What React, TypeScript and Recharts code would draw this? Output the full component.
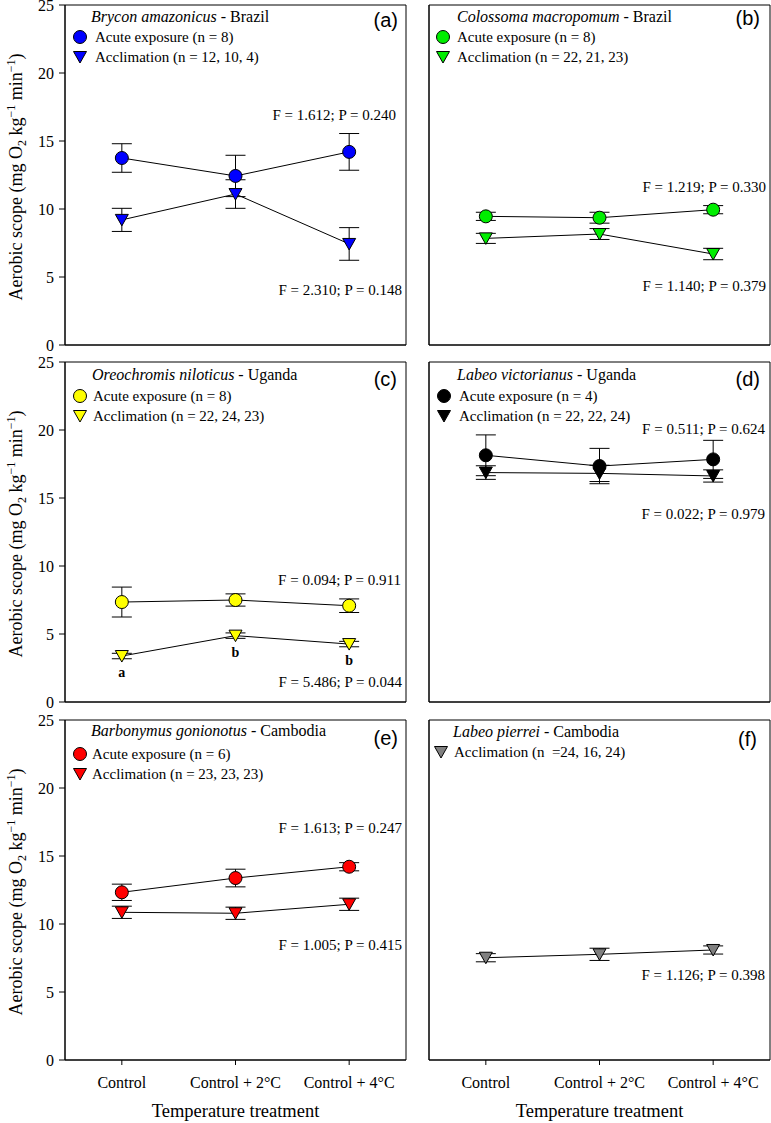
import React from "react";
import { LineChart, Line, XAxis, YAxis, ErrorBar, ReferenceArea, LabelList } from "recharts";

const SERIF = "'Liberation Serif', 'Times New Roman', Times, serif";
const SANS = "'Liberation Sans', Arial, Helvetica, sans-serif";

const treatments = ["Control", "Control + 2°C", "Control + 4°C"];
const yTicks = [0, 5, 10, 15, 20, 25];

// (a) Brycon amazonicus
const aAcute = [13.75, 12.43, 14.2];
const aAcuteSE = [1.05, 1.52, 1.35];
const aAccl = [9.2, 11.1, 7.43];
const aAcclSE = [0.85, 1.05, 1.2];
// (b) Colossoma macropomum
const bAcute = [9.46, 9.36, 9.95];
const bAcuteSE = [0.3, 0.4, 0.3];
const bAccl = [7.84, 8.16, 6.69];
const bAcclSE = [0.37, 0.4, 0.42];
// (c) Oreochromis niloticus
const cAcute = [7.35, 7.5, 7.08];
const cAcuteSE = [1.1, 0.45, 0.5];
const cAccl = [3.38, 4.88, 4.26];
const cAcclSE = [0.2, 0.2, 0.2];
const cLetters = ["a", "b", "b"];
// (d) Labeo victorianus
const dAcute = [18.14, 17.35, 17.84];
const dAcuteSE = [1.5, 1.3, 1.4];
const dAccl = [16.87, 16.81, 16.62];
const dAcclSE = [0.5, 0.6, 0.45];
// (e) Barbonymus gonionotus
const eAcute = [12.33, 13.38, 14.21];
const eAcuteSE = [0.6, 0.65, 0.3];
const eAccl = [10.86, 10.79, 11.45];
const eAcclSE = [0.45, 0.45, 0.45];
// (f) Labeo pierrei
const fAccl = [7.52, 7.77, 8.09];
const fAcclSE = [0.3, 0.45, 0.3];

type Panel = {
  tag: string;
  species: string;
  country: string;
  color: string;
  acuteName?: string;
  acclName: string;
  acute?: number[];
  acuteSE?: number[];
  accl: number[];
  acclSE: number[];
  letters?: string[];
  fTop?: string;
  fBot: string;
};

const panels: Panel[] = [
  { tag: "(a)", species: "Brycon amazonicus", country: "Brazil", color: "#0000ff", acuteName: "Acute exposure (n = 8)", acclName: "Acclimation (n = 12, 10, 4)", acute: aAcute, acuteSE: aAcuteSE, accl: aAccl, acclSE: aAcclSE, fTop: "F = 1.612; P = 0.240", fBot: "F = 2.310; P = 0.148" },
  { tag: "(b)", species: "Colossoma macropomum", country: "Brazil", color: "#00ee00", acuteName: "Acute exposure (n = 8)", acclName: "Acclimation (n = 22, 21, 23)", acute: bAcute, acuteSE: bAcuteSE, accl: bAccl, acclSE: bAcclSE, fTop: "F = 1.219; P = 0.330", fBot: "F = 1.140; P = 0.379" },
  { tag: "(c)", species: "Oreochromis niloticus", country: "Uganda", color: "#ffff00", acuteName: "Acute exposure (n = 8)", acclName: "Acclimation (n = 22, 24, 23)", acute: cAcute, acuteSE: cAcuteSE, accl: cAccl, acclSE: cAcclSE, letters: cLetters, fTop: "F = 0.094; P = 0.911", fBot: "F = 5.486; P = 0.044" },
  { tag: "(d)", species: "Labeo victorianus", country: "Uganda", color: "#000000", acuteName: "Acute exposure (n = 4)", acclName: "Acclimation (n = 22, 22, 24)", acute: dAcute, acuteSE: dAcuteSE, accl: dAccl, acclSE: dAcclSE, fTop: "F = 0.511; P = 0.624", fBot: "F = 0.022; P = 0.979" },
  { tag: "(e)", species: "Barbonymus gonionotus", country: "Cambodia", color: "#ff0000", acuteName: "Acute exposure (n = 6)", acclName: "Acclimation (n = 23, 23, 23)", acute: eAcute, acuteSE: eAcuteSE, accl: eAccl, acclSE: eAcclSE, fTop: "F = 1.613; P = 0.247", fBot: "F = 1.005; P = 0.415" },
  { tag: "(f)", species: "Labeo pierrei", country: "Cambodia", color: "#808080", acclName: "Acclimation (n\u00a0 =24, 16, 24)", accl: fAccl, acclSE: fAcclSE, fBot: "F = 1.126; P = 0.398" },
];

// layout (pixel placement of panels and their annotations)
const layout = [
  { top: 5, left: true, bottom: false, title: [26, 17], sym: 15, txt: 30, rows: [32, 52], tagXY: [333, 22], fTopXY: [331, 115], fBotXY: [337, 290] },
  { top: 5, left: false, bottom: false, title: [28, 17], sym: 14, txt: 28, rows: [32, 52], tagXY: [331, 20], fTopXY: [337, 187], fBotXY: [337, 286] },
  { top: 362, left: true, bottom: false, title: [27, 18], sym: 15, txt: 28, rows: [34, 54], tagXY: [332, 24], fTopXY: [336, 223], fBotXY: [337, 325] },
  { top: 362, left: false, bottom: false, title: [28, 18], sym: 15, txt: 30, rows: [34, 54], tagXY: [331, 24], fTopXY: [336, 72], fBotXY: [336, 157] },
  { top: 720, left: true, bottom: true, title: [26, 16], sym: 15, txt: 27, rows: [34, 54], tagXY: [333, 25], fTopXY: [337, 113], fBotXY: [337, 230] },
  { top: 720, left: false, bottom: true, title: [24, 17], sym: 12, txt: 25, rows: [32], tagXY: [328, 26], fTopXY: [336, 0], fBotXY: [336, 260] },
];

const CircleMark = ({ cx, cy, fill }: any) => (
  <circle cx={cx} cy={cy} r={6.5} fill={fill} stroke="#000" strokeWidth={1} />
);
const TriMark = ({ cx, cy, fill }: any) => (
  <polygon
    points={`${cx - 6.5},${cy - 5.5} ${cx + 6.5},${cy - 5.5} ${cx},${cy + 6}`}
    fill={fill}
    stroke="#000"
    strokeWidth={1}
  />
);

function PanelChart({ p, L }: { p: Panel; L: any }) {
  const mt = 14;
  const yW = L.left ? 65 : 10;
  const width = L.left ? 410 : 352;
  const xH = L.bottom ? 62 : 10;
  const height = mt + 340 + xH;
  const PL = yW;
  const PT = mt;
  const chartLeft = L.left ? 0 : 419;
  const data = treatments.map((t, i) => ({
    x: i,
    treatment: t,
    acute: p.acute ? p.acute[i] : undefined,
    acuteSE: p.acuteSE ? p.acuteSE[i] : undefined,
    accl: p.accl[i],
    acclSE: p.acclSE[i],
    letter: p.letters ? p.letters[i] : undefined,
  }));
  const legendRows: { name: string; kind: "c" | "t" }[] = [];
  if (p.acuteName) legendRows.push({ name: p.acuteName, kind: "c" });
  legendRows.push({ name: p.acclName, kind: "t" });

  return (
    <div style={{ position: "absolute", left: chartLeft, top: L.top - mt }}>
      <LineChart
        width={width}
        height={height}
        data={data}
        margin={{ top: mt, right: L.left ? 4 : 1, bottom: 0, left: 0 }}
      >
        <XAxis
          dataKey="x"
          type="number"
          domain={[-0.5, 2.5]}
          ticks={[0, 1, 2]}
          interval={0}
          allowDataOverflow
          tickFormatter={(v: number) => treatments[v]}
          tick={L.bottom ? { fill: "#000", fontSize: 16, fontFamily: SERIF } : false}
          tickSize={5}
          tickMargin={12}
          height={xH}
          axisLine={{ stroke: "#000" }}
          tickLine={{ stroke: "#000" }}
        />
        <YAxis
          type="number"
          domain={[0, 25]}
          ticks={yTicks}
          interval={0}
          width={yW}
          tick={L.left ? { fill: "#000", fontSize: 16, fontFamily: SERIF } : false}
          tickSize={6}
          tickMargin={5}
          axisLine={{ stroke: "#000" }}
          tickLine={{ stroke: "#000" }}
        />
        <ReferenceArea x1={-0.5} x2={2.5} y1={0} y2={25} fill="none" stroke="#000" strokeWidth={1} ifOverflow="visible" />
        {p.acute && (
          <Line
            dataKey="acute"
            type="linear"
            stroke="#000"
            strokeWidth={1}
            isAnimationActive={false}
            activeDot={false}
            dot={(dp: any) => <CircleMark key={`c${dp.index}`} cx={dp.cx} cy={dp.cy} fill={p.color} />}
          >
            <ErrorBar dataKey="acuteSE" width={10} stroke="#000" strokeWidth={1} direction="y" />
          </Line>
        )}
        <Line
          dataKey="accl"
          type="linear"
          stroke="#000"
          strokeWidth={1}
          isAnimationActive={false}
          activeDot={false}
          dot={(dp: any) => <TriMark key={`t${dp.index}`} cx={dp.cx} cy={dp.cy} fill={p.color} />}
        >
          <ErrorBar dataKey="acclSE" width={10} stroke="#000" strokeWidth={1} direction="y" />
          {p.letters && (
            <LabelList
              dataKey="letter"
              content={(lp: any) => (
                <text x={lp.x} y={lp.y + 21} textAnchor="middle" fontWeight="bold" fontSize={14} fontFamily={SERIF} fill="#000">
                  {lp.value}
                </text>
              )}
            />
          )}
        </Line>

        <g fontFamily={SERIF} fill="#000">
          <text x={PL + L.title[0]} y={PT + L.title[1]} fontSize={16}>
            <tspan fontStyle="italic">{p.species}</tspan>
            <tspan>{" - " + p.country}</tspan>
          </text>
          {legendRows.map((r, i) => (
            <g key={r.name}>
              {r.kind === "c" ? (
                <CircleMark cx={PL + L.sym} cy={PT + L.rows[i]} fill={p.color} />
              ) : (
                <TriMark cx={PL + L.sym} cy={PT + L.rows[i]} fill={p.color} />
              )}
              <text x={PL + L.txt} y={PT + L.rows[i] + 5} fontSize={15}>
                {r.name}
              </text>
            </g>
          ))}
          <text x={PL + L.tagXY[0]} y={PT + L.tagXY[1]} fontSize={20} fontFamily={SANS} textAnchor="end">
            {p.tag}
          </text>
          {p.fTop && (
            <text x={PL + L.fTopXY[0]} y={PT + L.fTopXY[1]} fontSize={15} textAnchor="end">
              {p.fTop}
            </text>
          )}
          <text x={PL + L.fBotXY[0]} y={PT + L.fBotXY[1]} fontSize={15} textAnchor="end">
            {p.fBot}
          </text>
          {L.left && (
            <text transform={`translate(22, ${PT + 172}) rotate(-90)`} textAnchor="middle" fontSize={18}>
              <tspan>Aerobic scope (mg O</tspan>
              <tspan dy={4} fontSize={12}>2</tspan>
              <tspan dy={-4}> kg</tspan>
              <tspan dy={-7} fontSize={12}>−1</tspan>
              <tspan dy={7}> min</tspan>
              <tspan dy={-7} fontSize={12}>−1</tspan>
              <tspan dy={7}>)</tspan>
            </text>
          )}
          {L.bottom && (
            <text x={PL + 170.5} y={PT + 397} textAnchor="middle" fontSize={18.5}>
              Temperature treatment
            </text>
          )}
        </g>
      </LineChart>
    </div>
  );
}

export default function App() {
  return (
    <div
      style={{
        position: "absolute",
        left: 0,
        top: 0,
        width: 771,
        height: 1123,
        overflow: "hidden",
        background: "#fff",
      }}
    >
      {panels.map((p, i) => (
        <PanelChart key={p.tag} p={p} L={layout[i]} />
      ))}
    </div>
  );
}
